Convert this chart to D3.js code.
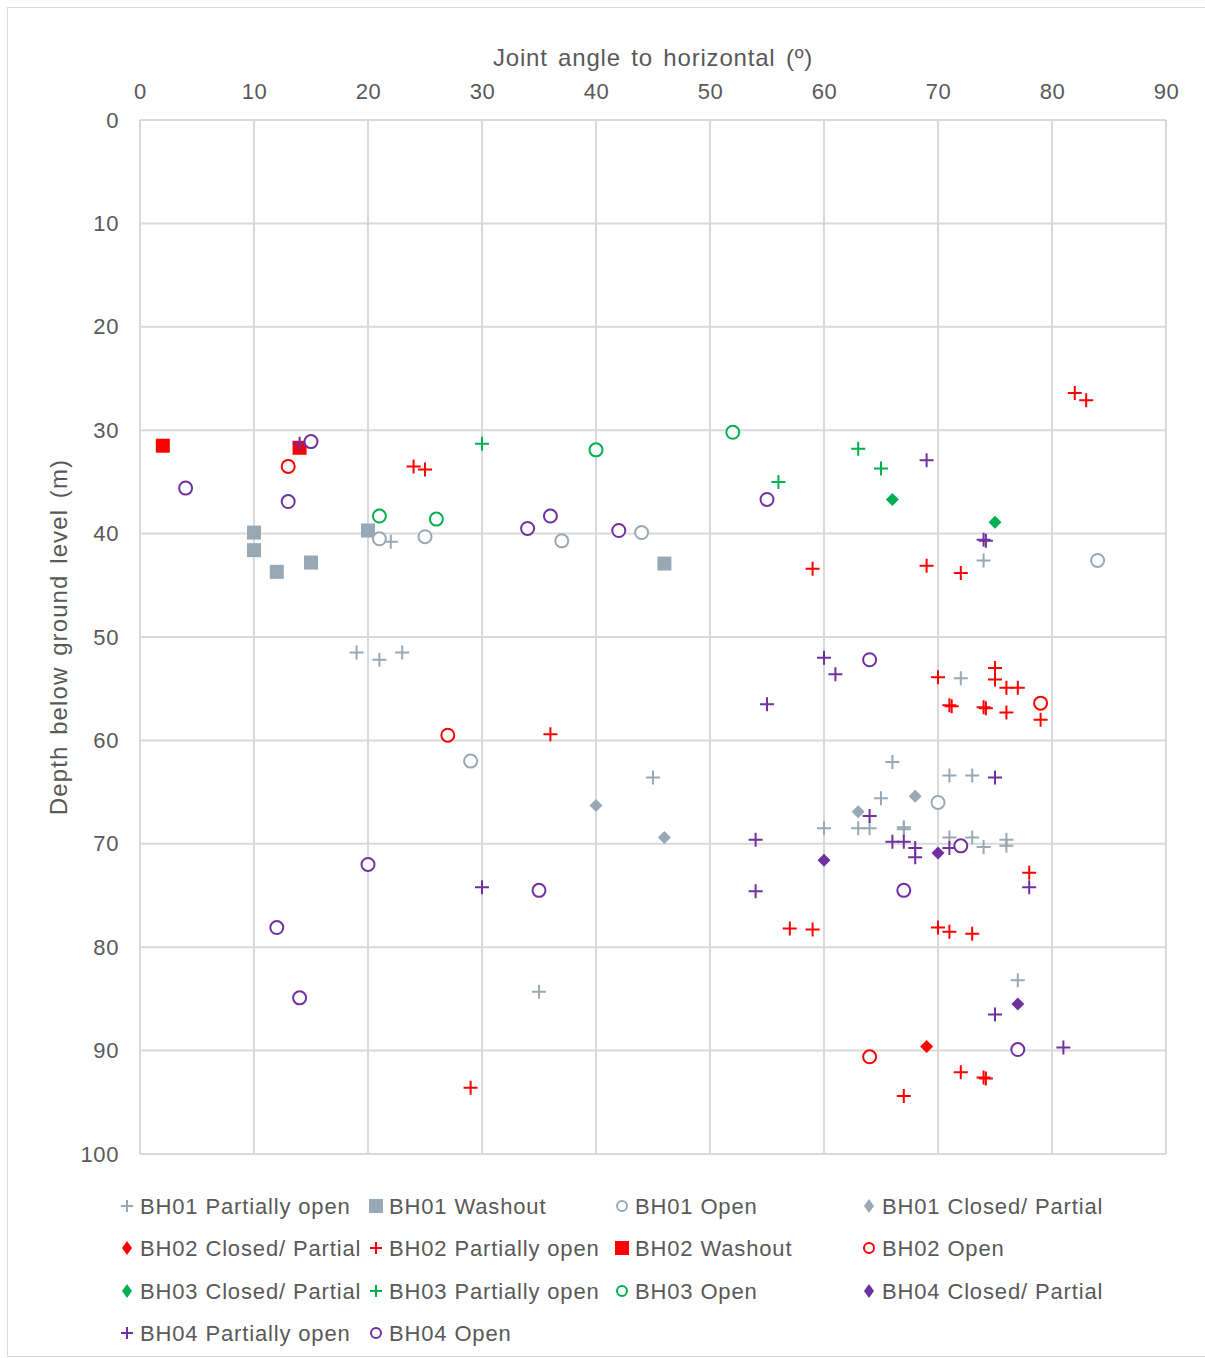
<!DOCTYPE html>
<html><head><meta charset="utf-8">
<script src="https://cdn.jsdelivr.net/npm/d3@7"></script>
<style>body{margin:0;background:#fff}svg{display:block}text{font-family:"Liberation Sans",Arial,sans-serif}</style>
</head><body><svg id="c" width="1205" height="1358"></svg>
<script>
const xTicks=[0,10,20,30,40,50,60,70,80,90];
const yTicks=[0,10,20,30,40,50,60,70,80,90,100];
const bh01Partial=[[22,40.8],[19,51.5],[21,52.2],[23,51.5],[74,42.6],[45,63.6],[35,84.3],[72,54],[66,62.1],[71,63.4],[73,63.4],[65,65.6],[60,68.5],[63,68.5],[64,68.5],[67,68.4],[67,68.6],[71,69.4],[73,69.4],[74,70.3],[76,69.6],[76,70.2],[77,83.2]];
const bh01Washout=[[10,39.9],[10,41.6],[12,43.7],[15,42.8],[20,39.7],[46,42.9]];
const bh01Open=[[21,40.5],[25,40.3],[37,40.7],[44,39.9],[84,42.6],[29,62],[70,66]];
const bh01Closed=[[40,66.3],[46,69.4],[63,66.9],[68,65.4]];
const bh02Closed=[[69,89.6]];
const bh02Partial=[[24,33.5],[25,33.8],[82,26.4],[83,27.1],[59,43.4],[69,43.1],[72,43.8],[36,59.4],[29,93.6],[70,53.9],[75,53],[75,54.1],[76,54.9],[77,54.9],[71,56.6],[71.2,56.7],[74,56.8],[74.2,56.9],[76,57.3],[79,58],[78,72.8],[57,78.2],[59,78.3],[70,78.1],[71,78.5],[73,78.7],[72,92.1],[74,92.6],[74.2,92.7],[67,94.4]];
const bh02Washout=[[2,31.5],[14,31.7]];
const bh02Open=[[13,33.5],[27,59.5],[79,56.4],[64,90.6]];
const bh03Closed=[[66,36.7],[75,38.9]];
const bh03Partial=[[30,31.3],[56,35],[63,31.8],[65,33.7]];
const bh03Open=[[21,38.3],[26,38.6],[40,31.9],[52,30.2]];
const bh04Closed=[[60,71.6],[70,70.9],[77,85.5]];
const bh04Partial=[[14,31.3],[69,32.9],[74,40.6],[74.2,40.7],[60,52],[61,53.6],[55,56.5],[75,63.6],[64,67.3],[54,69.6],[66,69.8],[67,69.8],[68,70.4],[68,71.3],[71,70.4],[78,74.2],[54,74.6],[30,74.2],[75,86.5],[81,89.7]];
const bh04Open=[[15,31.1],[4,35.6],[13,36.9],[34,39.5],[36,38.3],[42,39.7],[55,36.7],[64,52.2],[72,70.2],[67,74.5],[20,72],[35,74.5],[12,78.1],[14,84.9],[77,89.9]];

const GRAY="#98A9B5",RED="#FF0000",GREEN="#00B050",PURPLE="#7030A0";
const series=[
 {name:"BH01 Partially open",data:bh01Partial,shape:"plus",color:GRAY},
 {name:"BH01 Washout",data:bh01Washout,shape:"square",color:GRAY},
 {name:"BH01 Open",data:bh01Open,shape:"circle",color:GRAY},
 {name:"BH01 Closed/ Partial",data:bh01Closed,shape:"diamond",color:GRAY},
 {name:"BH02 Closed/ Partial",data:bh02Closed,shape:"diamond",color:RED},
 {name:"BH02 Partially open",data:bh02Partial,shape:"plus",color:RED},
 {name:"BH02 Washout",data:bh02Washout,shape:"square",color:RED},
 {name:"BH02 Open",data:bh02Open,shape:"circle",color:RED},
 {name:"BH03 Closed/ Partial",data:bh03Closed,shape:"diamond",color:GREEN},
 {name:"BH03 Partially open",data:bh03Partial,shape:"plus",color:GREEN},
 {name:"BH03 Open",data:bh03Open,shape:"circle",color:GREEN},
 {name:"BH04 Closed/ Partial",data:bh04Closed,shape:"diamond",color:PURPLE},
 {name:"BH04 Partially open",data:bh04Partial,shape:"plus",color:PURPLE},
 {name:"BH04 Open",data:bh04Open,shape:"circle",color:PURPLE}
];

const svg=d3.select("#c");
svg.append("rect").attr("x",7.5).attr("y",7.5).attr("width",1210).attr("height",1349).attr("fill","#fff").attr("stroke","#D9D9D9");
const x=d3.scaleLinear().domain([0,90]).range([140,1166]);
const y=d3.scaleLinear().domain([0,100]).range([120,1154]);
const GRID="#D9D9D9",TXT="#595959";
const g=svg.append("g");
g.selectAll(".vx").data(xTicks).join("line").attr("x1",d=>x(d)).attr("x2",d=>x(d)).attr("y1",y(0)).attr("y2",y(100)).attr("stroke",GRID).attr("stroke-width",2);
g.selectAll(".hy").data(yTicks).join("line").attr("x1",x(0)).attr("x2",x(90)).attr("y1",d=>y(d)).attr("y2",d=>y(d)).attr("stroke",GRID).attr("stroke-width",2);
const xa=d3.axisTop(x).tickValues(xTicks).tickSize(0).tickPadding(21);
const xg=svg.append("g").attr("transform",`translate(0,${y(0)})`).call(xa);
xg.select(".domain").remove();
xg.selectAll("text").attr("font-size",22).attr("letter-spacing",0.6).attr("fill",TXT).attr("font-family","Liberation Sans, Arial, sans-serif");
const ya=d3.axisLeft(y).tickValues(yTicks).tickSize(0).tickPadding(21);
const yg=svg.append("g").attr("transform",`translate(${x(0)},0)`).call(ya);
yg.select(".domain").remove();
yg.selectAll("text").attr("font-size",22).attr("letter-spacing",0.6).attr("fill",TXT).attr("font-family","Liberation Sans, Arial, sans-serif");
svg.append("text").attr("x",653).attr("y",66).attr("text-anchor","middle").attr("font-size",24).attr("letter-spacing",0.8).attr("word-spacing",3).attr("fill",TXT).text("Joint angle to horizontal (º)");
svg.append("text").attr("transform",`translate(67,637) rotate(-90)`).attr("text-anchor","middle").attr("font-size",24).attr("letter-spacing",1.1).attr("word-spacing",3).attr("fill",TXT).text("Depth below ground level (m)");

function drawMarker(sel,shape,color,s){
  if(shape==="plus"){
    sel.append("path").attr("d",`M${-s},0H${s}M0,${-s}V${s}`).attr("stroke",color).attr("stroke-width",2).attr("fill","none");
  }else if(shape==="square"){
    sel.append("rect").attr("x",-s).attr("y",-s).attr("width",2*s).attr("height",2*s).attr("fill",color);
  }else if(shape==="circle"){
    sel.append("circle").attr("r",s).attr("fill","#fff").attr("stroke",color).attr("stroke-width",2);
  }else{
    sel.append("path").attr("d",`M0,${-s}L${s},0L0,${s}L${-s},0Z`).attr("fill",color);
  }
}
const sizes={plus:7,square:7,circle:6.5,diamond:6.5};
series.forEach(sr=>{
  const pts=svg.append("g").selectAll("g").data(sr.data).join("g").attr("transform",d=>`translate(${x(d[0])},${y(d[1])})`);
  pts.each(function(){drawMarker(d3.select(this),sr.shape,sr.color,sizes[sr.shape]);});
});

const colX=[127,376,622,869],rowY=[1206,1248,1291,1333];
const lsz={plus:6,square:7,circle:5,diamond:5};
series.forEach((sr,i)=>{
  const r=Math.floor(i/4),c=i%4;
  const lg=svg.append("g").attr("transform",`translate(${colX[c]},${rowY[r]})`);
  const m=lg.append("g");
  if(sr.shape==="diamond"){m.append("path").attr("d","M0,-7L5,0L0,7L-5,0Z").attr("fill",sr.color);}
  else drawMarker(m,sr.shape,sr.color,lsz[sr.shape]);
  lg.append("text").attr("x",13).attr("y",8).attr("font-size",22).attr("letter-spacing",0.85).attr("fill",TXT).text(sr.name);
});
</script></body></html>
